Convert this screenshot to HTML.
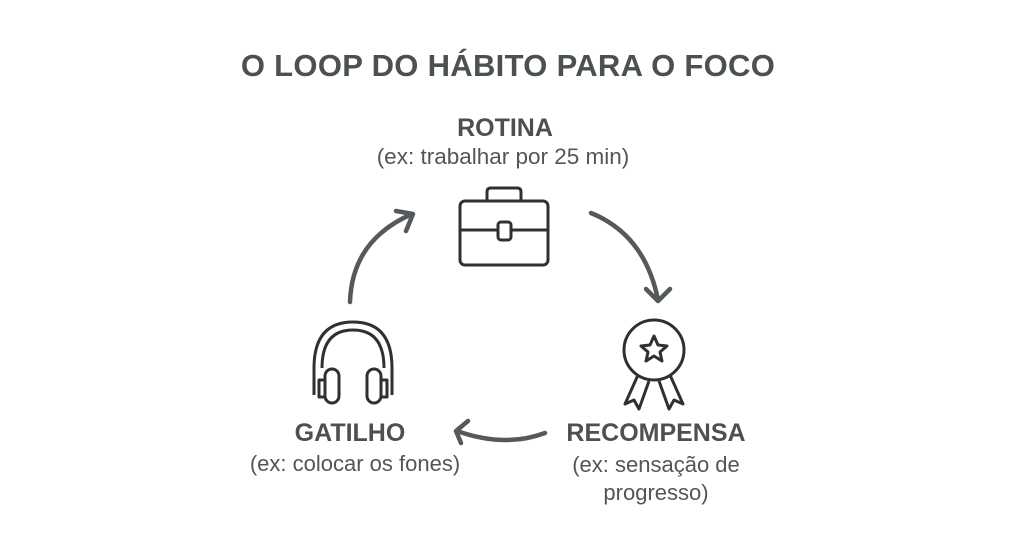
<!DOCTYPE html>
<html><head><meta charset="utf-8"><style>
body{margin:0;width:1024px;height:538px;background:#fff;overflow:hidden;font-family:"Liberation Sans",sans-serif;}
.t{position:absolute;text-align:center;color:#4b5053;white-space:nowrap;}
.b{font-weight:bold;}
</style></head><body>
<div class="t b" style="left:-4px;width:1024px;top:48px;font-size:31px;letter-spacing:0.3px;">O LOOP DO HÁBITO PARA O FOCO</div>
<div class="t b" style="left:405px;width:200px;top:114px;font-size:25px;">ROTINA</div>
<div class="t" style="left:303px;width:400px;top:144px;font-size:22.5px;color:#555;">(ex: trabalhar por 25 min)</div>
<div class="t b" style="left:250px;width:200px;top:419px;font-size:25px;">GATILHO</div>
<div class="t" style="left:205px;width:300px;top:451px;font-size:22px;color:#555;">(ex: colocar os fones)</div>
<div class="t b" style="left:546px;width:220px;top:419px;font-size:25px;">RECOMPENSA</div>
<div class="t" style="left:536px;width:240px;top:451px;font-size:22px;color:#555;line-height:28px;">(ex: sensação de<br>progresso)</div>
<svg width="1024" height="538" style="position:absolute;left:0;top:0">
<g fill="none" stroke="#545a5c" stroke-width="4.5" stroke-linecap="round" stroke-linejoin="round">
<path d="M350 302 Q352 240 412 214"/><path d="M396 211 L413 214 L406 231"/>
<path d="M591 213 Q645 235 658 300"/><path d="M646 289 L658 301 L670 289"/>
<path d="M545 433 Q505 448 457 431"/><path d="M468 421 L456 431 L461 443"/>
</g>
<g fill="none" stroke="#2e3133" stroke-width="3" stroke-linejoin="round">
<rect x="460" y="201" width="88" height="64" rx="5"/>
<path d="M487 201 V192 Q487 188 491 188 H517 Q521 188 521 192 V201"/>
<path d="M460 230 H498 M511 230 H548"/>
<rect x="498" y="222" width="13" height="18" rx="3"/>
<path d="M314 368 Q314 322 353 322 Q392 322 392 368"/>
<path d="M322 368 Q322 330 353 330 Q384 330 384 368"/>
<path d="M314 368 V395 M392 368 V395"/>
<rect x="325" y="369" width="14" height="34" rx="7"/>
<rect x="367" y="369" width="14" height="34" rx="7"/>
<path d="M325 380 H319 V397 H325 M381 380 H387 V397 H381"/>
<circle cx="654" cy="350" r="30"/>
<path d="M654 336 L658 345 L667 346 L660 352 L662 361 L654 356 L646 361 L648 352 L641 346 L650 345 Z"/>
<path d="M638 375 L625 404 L634 400 L639 409 L649 381"/>
<path d="M670 375 L683 404 L674 400 L669 409 L659 381"/>
</g>
</svg>
</body></html>
